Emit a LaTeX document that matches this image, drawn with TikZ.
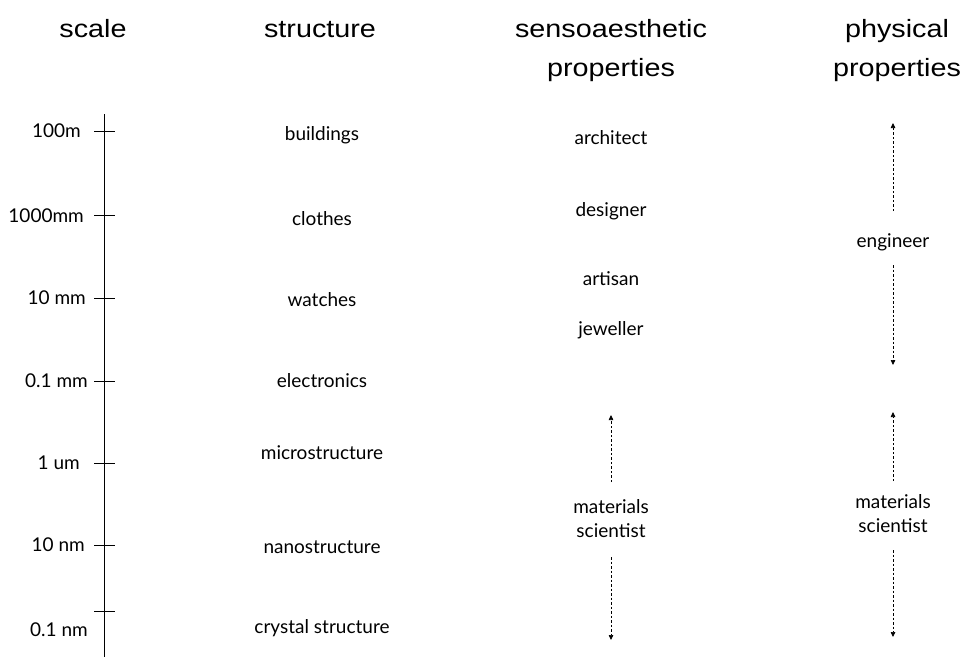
\documentclass[tikz,border=0pt]{standalone}
\usepackage{fontspec}
\setmainfont{Lato}
\newfontfamily\headfont[FakeStretch=1.15]{Liberation Sans}
\usetikzlibrary{arrows.meta}
\begin{document}
\begin{tikzpicture}[x=1pt,y=-1pt,
  head/.style={font=\headfont\fontsize{25}{30}\selectfont,inner sep=0pt,align=center},
  body/.style={font=\fontsize{19}{24}\selectfont,inner sep=0pt,align=center},
  lbl/.style={font=\fontsize{19}{24}\selectfont,inner sep=0pt,anchor=east},
  rng/.style={dash pattern=on 2.5pt off 2pt,line width=0.7pt,-{Triangle[length=5pt,width=4.5pt]}}]
\useasboundingbox (0,0) rectangle (963,657);
% headers
\node[head,anchor=base] (hscale) at (93,37) {scale};
\node[head,anchor=base] (hstruct) at (320,37) {structure};
\node[head,anchor=base] (hsens1) at (611,37) {sensoaesthetic};
\node[head,anchor=base] (hsens2) at (611,76) {properties};
\node[head,anchor=base] (hphys1) at (897,37) {physical};
\node[head,anchor=base] (hphys2) at (897,76) {properties};
% axis
\coordinate (atop) at (104,114);
\coordinate (abot) at (104,657);
\draw[line width=0.8pt] (atop) -- (abot);
\foreach \y/\n in {131/t1,215/t2,298/t3,381/t4,463/t5,545/t6,611/t7}{
  \coordinate (\n l) at (94,\y); \coordinate (\n r) at (115,\y);
  \draw[line width=0.8pt] (\n l) -- (\n r);
}
% scale labels
\node[lbl] (s1) at (81,131) {100m};
\node[lbl] (s2) at (84,216) {1000mm};
\node[lbl] (s3) at (86,298) {10 mm};
\node[lbl] (s4) at (88,381) {0.1 mm};
\node[lbl] (s5) at (80,463) {1 um};
\node[lbl] (s6) at (85,545) {10 nm};
\node[lbl] (s7) at (88,630) {0.1 nm};
% structure
\node[body] (b1) at (322,135) {buildings};
\node[body] (b2) at (322,219) {clothes};
\node[body] (b3) at (322,300) {watches};
\node[body] (b4) at (322,381) {electronics};
\node[body] (b5) at (322,453) {microstructure};
\node[body] (b6) at (322,547) {nanostructure};
\node[body] (b7) at (322,628) {crystal structure};
% sensoaesthetic
\node[body] (c1) at (611,138) {architect};
\node[body] (c2) at (611,211) {designer};
\node[body] (c3) at (611,279) {artisan};
\node[body] (c4) at (611,330) {jeweller};
\node[body,text depth=0pt] (c5) at (611,518) {materials\\scientist};
\coordinate (c5t) at (611,415);
\coordinate (c5b) at (611,640);
\draw[rng] (c5.north |- 0,482) -- (c5t);
\draw[rng] (c5.south |- 0,557) -- (c5b);
% physical
\node[body] (p1) at (893,242) {engineer};
\coordinate (p1t) at (893,123);
\coordinate (p1b) at (893,365);
\draw[rng] (p1.north |- 0,211) -- (p1t);
\draw[rng] (p1.south |- 0,265) -- (p1b);
\node[body,text depth=0pt] (p2) at (893,513) {materials\\scientist};
\coordinate (p2t) at (893,412);
\coordinate (p2b) at (893,637);
\draw[rng] (p2.north |- 0,481) -- (p2t);
\draw[rng] (p2.south |- 0,550) -- (p2b);
\end{tikzpicture}
\end{document}
